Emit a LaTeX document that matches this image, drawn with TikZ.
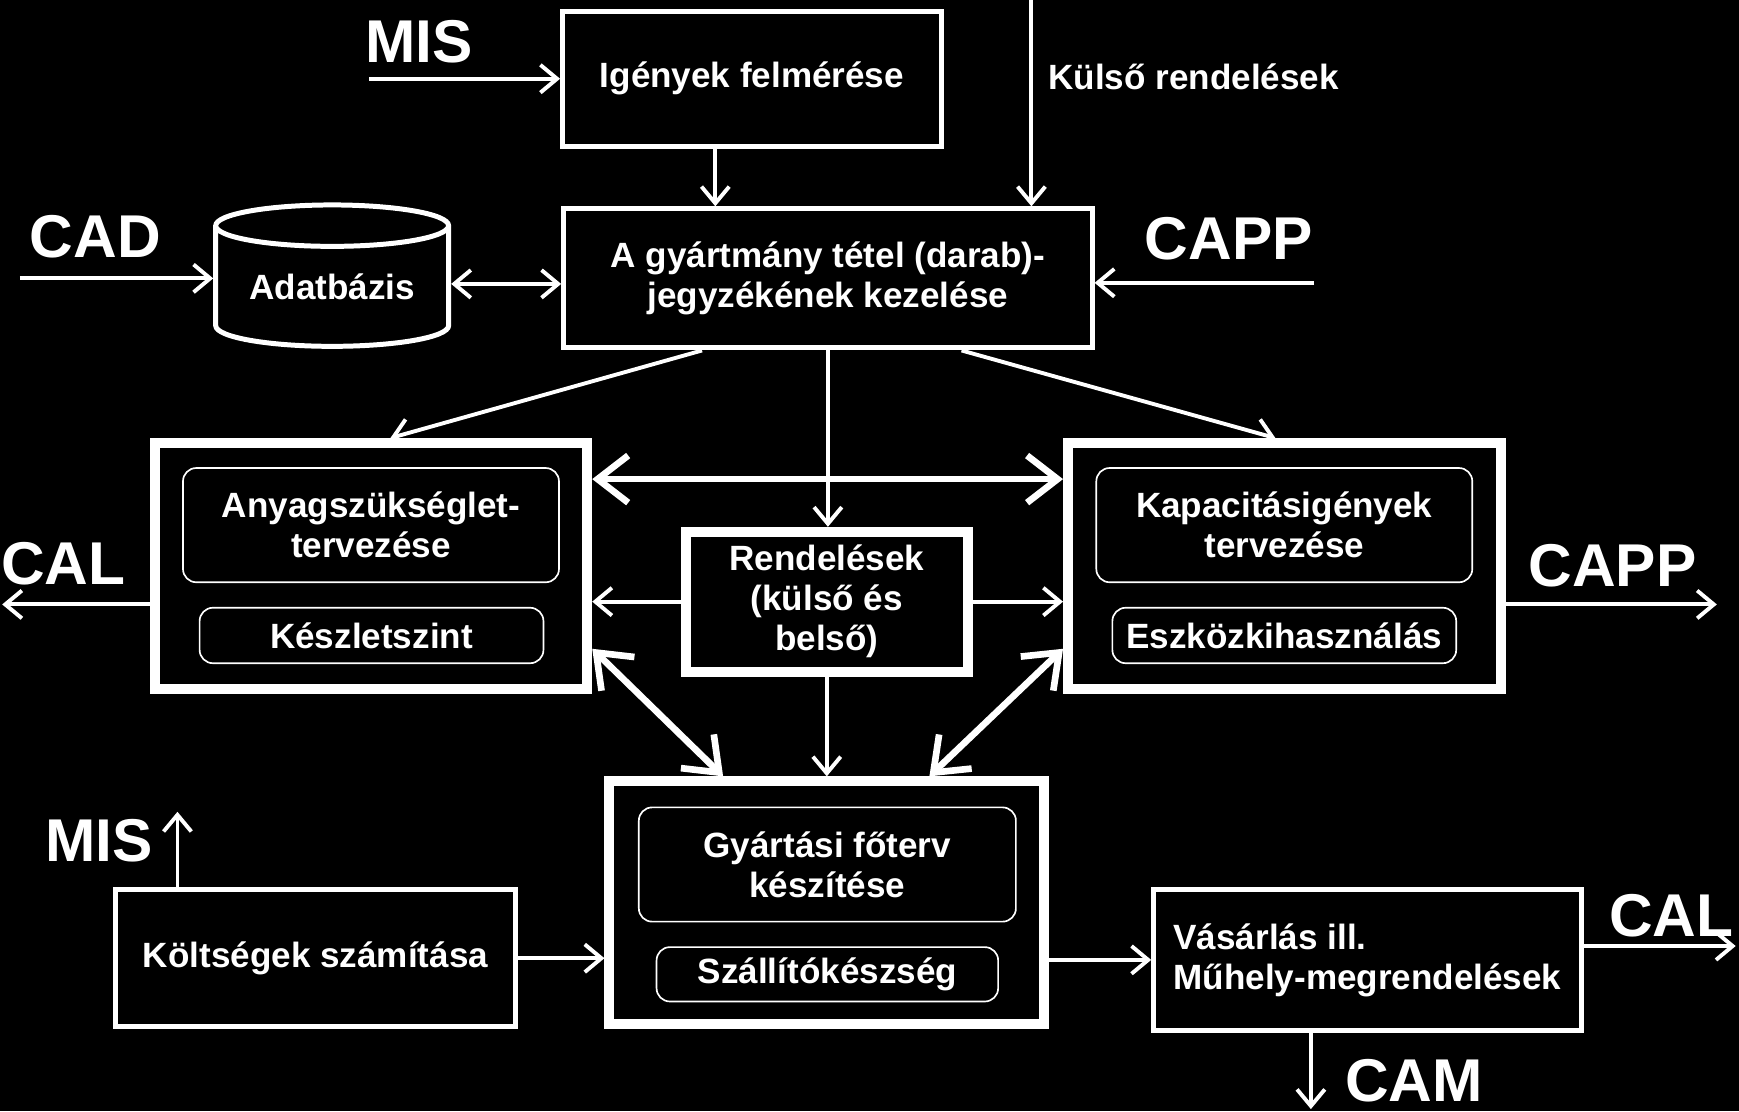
\documentclass[tikz,border=0pt]{standalone}
\usepackage{fontspec}
\setmainfont{Liberation Sans}
\usetikzlibrary{arrows.meta,shapes.geometric}

\begin{document}
\begin{tikzpicture}[x=0.2mm,y=-0.2mm,
  every node/.style={text=white,font=\bfseries\fontsize{18}{20.5}\selectfont,align=center},
  vekony/.style={draw=white,line width=0.9mm,inner sep=0pt},
  vastag/.style={draw=white,line width=1.8mm,inner sep=0pt},
  belso/.style={draw=white,line width=0.3mm,rounded corners=2.4mm,inner sep=0pt},
  felirat/.style={font=\bfseries\fontsize{31}{31}\selectfont,inner sep=0pt},
  nyil/.style={white,line width=0.7mm,-{Straight Barb[length=3mm,width=5mm]}},
  kettos/.style={white,line width=0.7mm,{Straight Barb[length=3mm,width=5mm]}-{Straight Barb[length=3mm,width=5mm]}},
  vastagnyil/.style={white,line width=1.2mm,{Straight Barb[length=5.5mm,width=8.5mm]}-{Straight Barb[length=5.5mm,width=8.5mm]}}]
  \useasboundingbox (0,0) rectangle (1568,1002);
  \fill[black] (0,0) rectangle (1568,1002);
  % felső sor
  \node[vekony,minimum width=68.3mm,minimum height=24.3mm] (igeny) at (678,71) {Igények felmérése};
  \node[vekony,minimum width=95.3mm,minimum height=25.1mm] (bom) at (746.5,251) {A gyártmány tétel (darab)-\\jegyzékének kezelése};
  \node[draw=white,line width=0.9mm,cylinder,shape border rotate=90,shape aspect=0.25,
    minimum width=42mm,minimum height=25.5mm,inner sep=0pt] (db) at (299.5,259) {Adatbázis};
  \node[felirat] (mis1) at (378,38) {MIS};
  \node[felirat] (cad) at (86,213) {CAD};
  \node[felirat] (capp1) at (1108,215) {CAPP};
  \node[anchor=west,inner sep=0pt] (kulso) at (945,69) {Külső rendelések};
  % középső sor
  \node[vastag,minimum width=78mm,minimum height=44.4mm] (anyag) at (334.5,510.5) {};
  \node[belso,minimum width=67.8mm,minimum height=20.6mm] (anyagterv) at (334.5,473.5) {Anyagszükséglet-\\tervezése};
  \node[belso,minimum width=62mm,minimum height=10mm] (keszlet) at (335,573) {Készletszint};
  \node[vastag,minimum width=78mm,minimum height=44.4mm] (kapac) at (1158,510.5) {};
  \node[belso,minimum width=67.8mm,minimum height=20.6mm] (kapterv) at (1158,473.5) {Kapacitásigények\\tervezése};
  \node[belso,minimum width=62mm,minimum height=10mm] (eszkoz) at (1158,573) {Eszközkihasználás};
  \node[vastag,minimum width=50.8mm,minimum height=25.2mm] (rend) at (745.5,542.5) {Rendelések\\(külső és\\belső)};
  \node[felirat] (cal1) at (57,508) {CAL};
  \node[felirat] (capp2) at (1454,510) {CAPP};
  % alsó sor
  \node[vastag,minimum width=78.4mm,minimum height=43.8mm] (gyart) at (745.5,814) {};
  \node[belso,minimum width=68mm,minimum height=20.6mm] (foterv) at (746,779.5) {Gyártási főterv\\készítése};
  \node[belso,minimum width=61.6mm,minimum height=9.8mm] (szall) at (746,878.5) {Szállítókészség};
  \node[vekony,minimum width=72.1mm,minimum height=24.7mm] (koltseg) at (284.5,864) {Költségek számítása};
  \node[vekony,minimum width=77.1mm,minimum height=25.3mm,align=left] (vasarlas) at (1233,865.5) {Vásárlás ill.\\Műhely-megrendelések};
  \node[felirat] (mis2) at (89,758) {MIS};
  \node[felirat] (cal2) at (1507,826) {CAL};
  \node[felirat] (cam) at (1275,974) {CAM};
  % segédpontok
  \coordinate (misbe) at (333,71);
  \coordinate (kulsobe) at (930,0);
  \coordinate (igX) at (645,0);
  \coordinate (cadbe) at (18,251);
  \coordinate (dbY) at (0,256);
  \coordinate (cappbe) at (1185,255);
  \coordinate (balX1) at (633,0);
  \coordinate (balX2) at (352,0);
  \coordinate (jobbX1) at (867,0);
  \coordinate (jobbX2) at (1150,0);
  \coordinate (kozepY) at (0,432);
  \coordinate (calki) at (2,545);
  \coordinate (cappki) at (1548,545);
  \coordinate (atloY) at (0,585);
  \coordinate (gyX1) at (652,0);
  \coordinate (gyX2) at (838,0);
  \coordinate (miski) at (160,732);
  \coordinate (calki2) at (1565,853);
  \coordinate (camki) at (1182,1000);
  % nyilak
  \draw[nyil] (misbe) -- (igeny.west |- misbe);
  \draw[nyil] (kulsobe) -- (bom.north -| kulsobe);
  \draw[nyil] (igeny.south -| igX) -- (bom.north -| igX);
  \draw[nyil] (cadbe) -- (db.west |- cadbe);
  \draw[kettos] (db.east |- dbY) -- (bom.west |- dbY);
  \draw[nyil] (cappbe) -- (bom.east |- cappbe);
  \draw[nyil] (bom.south -| balX1) -- (anyag.north -| balX2);
  \draw[nyil] (bom.south -| jobbX1) -- (kapac.north -| jobbX2);
  \draw[nyil] (bom.south) -- (bom.south |- rend.north);
  \draw[vastagnyil] (anyag.east |- kozepY) -- (kapac.west |- kozepY);
  \draw[nyil] (rend.west) -- (rend.west -| anyag.east);
  \draw[nyil] (rend.east) -- (rend.east -| kapac.west);
  \draw[nyil] (anyag.west |- calki) -- (calki);
  \draw[nyil] (kapac.east |- cappki) -- (cappki);
  \draw[nyil] (rend.south) -- (rend.south |- gyart.north);
  \draw[vastagnyil] (anyag.east |- atloY) -- (gyart.north -| gyX1);
  \draw[vastagnyil] (kapac.west |- atloY) -- (gyart.north -| gyX2);
  \draw[nyil] (koltseg.east) -- (koltseg.east -| gyart.west);
  \draw[nyil] (koltseg.north -| miski) -- (miski);
  \draw[nyil] (vasarlas.west -| gyart.east) -- (vasarlas.west);
  \draw[nyil] (vasarlas.east |- calki2) -- (calki2);
  \draw[nyil] (vasarlas.south -| camki) -- (camki);
\end{tikzpicture}
\end{document}
